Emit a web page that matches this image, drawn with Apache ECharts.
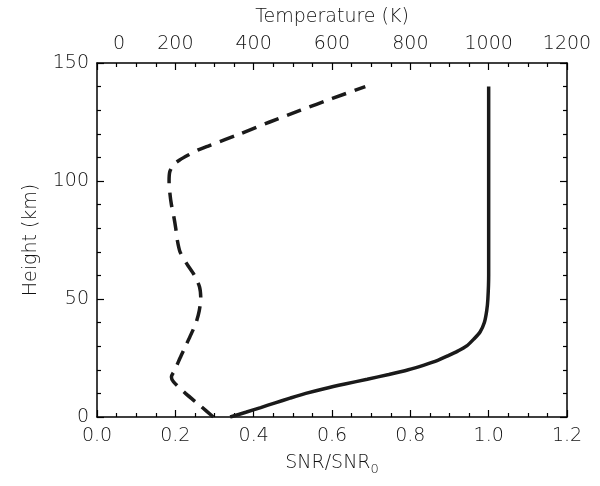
<!DOCTYPE html>
<html>
<head>
<meta charset="utf-8">
<script src="https://cdn.jsdelivr.net/npm/echarts@6/dist/echarts.min.js"></script>
<style>
  html, body { margin: 0; padding: 0; background: #fff; }
  #chart { width: 600px; height: 486px; }
</style>
</head>
<body>
<div id="chart"></div>
<script>
// SNR/SNR0 (bottom axis) against height
const snrHeight = [0, 2, 4, 6, 8, 10, 12, 14, 16, 18, 20, 22, 24, 26, 28, 30, 33, 36, 40, 45, 50, 60, 80, 100, 120, 140];
const snrRatio = [0.34, 0.38, 0.418, 0.455, 0.493, 0.533, 0.58, 0.633, 0.69, 0.745, 0.795, 0.835, 0.87, 0.897, 0.922, 0.943, 0.962, 0.978, 0.989, 0.995, 0.998, 1.0, 1.0, 1.0, 1.0, 1.0];

// temperature profile (top axis) against height
const tempHeight = [0, 5, 10, 15, 17, 20, 25, 30, 35, 40, 45, 50, 55, 60, 65, 70, 75, 80, 85, 90, 95, 100, 104, 107, 109, 111, 113, 115, 120, 125, 130, 135, 140];
const tempK = [297, 262, 226, 195, 190, 199, 212, 226, 240, 253, 261, 265, 262, 249, 229, 212, 205, 201, 196, 190, 186, 184, 186, 196, 212, 233, 256, 287, 366, 441, 520, 601, 685];

const font = 'DejaVu Sans';
const textColor = '#111';
const textWeight = 300;

const chart = echarts.init(document.getElementById('chart'));

// every axis draws the box edge and inward ticks
const tickStyle = {
  axisLine: { show: true, onZero: false, lineStyle: { color: '#000', width: 1.5 } },
  axisTick: { show: true, inside: true, length: 7, lineStyle: { color: '#000', width: 1.2 } },
  minorTick: { show: true, length: 4, lineStyle: { color: '#000', width: 1.2 } },
  splitLine: { show: false },
};

chart.setOption({
  animation: false,
  backgroundColor: '#fff',
  grid: { left: 97, right: 33, top: 63, bottom: 69 },
  xAxis: [
    {
      type: 'value',
      position: 'bottom',
      min: 0,
      max: 1.2,
      interval: 0.2,
      ...tickStyle,
      minorTick: { ...tickStyle.minorTick, splitNumber: 4 },
      axisLabel: {
        margin: 10,
        fontFamily: font,
        fontSize: 19,
        fontWeight: textWeight,
        color: textColor,
        showMinLabel: true,
        showMaxLabel: true,
        formatter: v => v.toFixed(1),
      },
      name: 'SNR/SNR{sub|0}',
      nameLocation: 'middle',
      nameGap: 34,
      nameTextStyle: {
        fontFamily: font,
        fontSize: 19,
        fontWeight: textWeight,
        color: textColor,
        rich: {
          sub: { fontFamily: font, fontSize: 13, fontWeight: textWeight, color: textColor, padding: [12, 0, 0, 0] },
        },
      },
    },
    {
      type: 'value',
      position: 'top',
      min: 0,
      max: 1200,
      interval: 200,
      ...tickStyle,
      minorTick: { ...tickStyle.minorTick, splitNumber: 4 },
      axisLabel: {
        margin: 9,
        fontFamily: font,
        fontSize: 19,
        fontWeight: textWeight,
        color: textColor,
        showMinLabel: true,
        showMaxLabel: true,
        formatter: v => (v === 0 ? '{first|0}' : String(v)),
        rich: {
          first: { fontFamily: font, fontSize: 19, fontWeight: textWeight, color: textColor, padding: [0, 0, 0, 44] },
        },
      },
      name: 'Temperature (K)',
      nameLocation: 'middle',
      nameGap: 36,
      nameTextStyle: { fontFamily: font, fontSize: 19, fontWeight: textWeight, color: textColor },
    },
  ],
  yAxis: [
    {
      type: 'value',
      position: 'left',
      min: 0,
      max: 150,
      interval: 50,
      ...tickStyle,
      minorTick: { ...tickStyle.minorTick, splitNumber: 5 },
      axisLabel: { margin: 8, fontFamily: font, fontSize: 19, fontWeight: textWeight, color: textColor },
      name: 'Height (km)',
      nameLocation: 'middle',
      nameGap: 56,
      nameTextStyle: { fontFamily: font, fontSize: 19, fontWeight: textWeight, color: textColor },
    },
    {
      type: 'value',
      position: 'right',
      min: 0,
      max: 150,
      interval: 50,
      ...tickStyle,
      minorTick: { ...tickStyle.minorTick, splitNumber: 5 },
      axisLabel: { show: false },
    },
  ],
  series: [
    {
      type: 'line',
      xAxisIndex: 0,
      yAxisIndex: 0,
      data: snrHeight.map((h, i) => [snrRatio[i], h]),
      showSymbol: false,
      smooth: 0.25,
      lineStyle: { color: '#1a1a1a', width: 3.5, type: 'solid' },
    },
    {
      type: 'line',
      xAxisIndex: 1,
      yAxisIndex: 0,
      data: tempHeight.map((h, i) => [tempK[i], h]),
      showSymbol: false,
      smooth: 0.25,
      lineStyle: { color: '#1a1a1a', width: 3.5, type: [15, 9] },
    },
  ],
});
</script>
</body>
</html>
